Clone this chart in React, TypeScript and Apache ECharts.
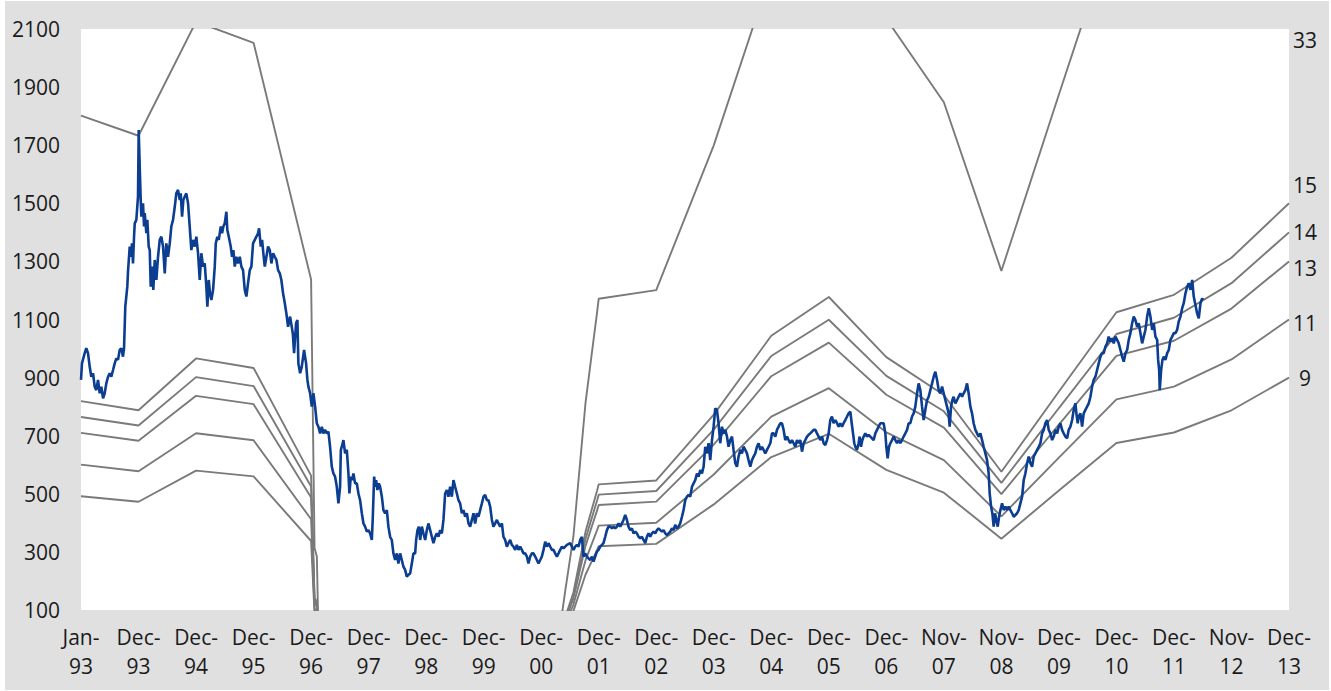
import React, { useEffect, useRef } from "react";
import * as echarts from "echarts";

const xLabels = [
  "Jan-\n93", "Dec-\n93", "Dec-\n94", "Dec-\n95", "Dec-\n96", "Dec-\n97", "Dec-\n98",
  "Dec-\n99", "Dec-\n00", "Dec-\n01", "Dec-\n02", "Dec-\n03", "Dec-\n04", "Dec-\n05",
  "Dec-\n06", "Nov-\n07", "Nov-\n08", "Dec-\n09", "Dec-\n10", "Dec-\n11", "Nov-\n12", "Dec-\n13",
];

const yTicks = [100, 300, 500, 700, 900, 1100, 1300, 1500, 1700, 1900, 2100];

// P/E multiples of the gray bands
const peMultiples = [9, 11, 13, 14, 15, 33];

const epsTime = [0, 1, 2, 3, 4, 4.06, 4.1, 4.13, 8.3, 8.42, 8.56, 8.77, 8.88, 8.97, 9, 10, 11, 12, 13, 14, 15, 16, 17, 18, 19, 20, 21];
const epsValue = [54.6, 52.5, 64.4, 62.2, 37.5, 9.5, 8.6, 0, 0, 5.1, 10.7, 24.6, 29.8, 34, 35.5, 36.4, 51.5, 69.6, 78.5, 64.7, 56, 38.4, 56.8, 75, 79, 87.5, 100];

// index level: [years since Jan-93, value]
const price: [number, number][] = [
  [0.000,892],[0.017,949],[0.064,984],[0.092,1001],[0.122,984],[0.151,938],[0.179,903],[0.209,915],[0.238,869],[0.266,857],[0.296,892],[0.325,846],[0.353,869],[0.383,829],[0.412,846],[0.440,880],[0.470,903],[0.499,915],[0.527,903],[0.557,926],[0.586,949],[0.614,966],[0.643,961],[0.673,995],[0.701,1001],[0.730,972],[0.748,1001],[0.770,1144],[0.805,1213],[0.817,1265],[0.847,1351],[0.864,1316],[0.887,1362],[0.904,1293],[0.922,1385],[0.934,1431],[0.962,1443],[0.991,1523],[1.003,1752],[1.021,1626],[1.038,1511],[1.049,1454],[1.078,1500],[1.096,1420],[1.108,1466],[1.136,1397],[1.153,1443],[1.177,1351],[1.195,1339],[1.212,1213],[1.235,1282],[1.257,1202],[1.282,1305],[1.310,1236],[1.339,1316],[1.369,1374],[1.397,1385],[1.426,1351],[1.456,1259],[1.483,1362],[1.513,1316],[1.543,1362],[1.570,1420],[1.600,1443],[1.630,1488],[1.657,1534],[1.687,1546],[1.717,1511],[1.734,1534],[1.757,1454],[1.779,1511],[1.803,1523],[1.831,1534],[1.861,1500],[1.890,1420],[1.918,1339],[1.948,1374],[1.977,1351],[2.005,1385],[2.035,1328],[2.064,1236],[2.092,1328],[2.122,1282],[2.151,1293],[2.179,1213],[2.197,1144],[2.221,1236],[2.243,1190],[2.266,1167],[2.296,1202],[2.325,1282],[2.343,1362],[2.370,1385],[2.395,1374],[2.430,1420],[2.452,1397],[2.475,1420],[2.499,1431],[2.527,1471],[2.544,1408],[2.569,1385],[2.603,1351],[2.626,1316],[2.649,1339],[2.673,1282],[2.701,1316],[2.730,1293],[2.760,1316],[2.788,1282],[2.817,1270],[2.847,1202],[2.875,1179],[2.904,1225],[2.934,1270],[2.962,1282],[2.991,1362],[3.021,1374],[3.049,1385],[3.078,1397],[3.096,1414],[3.125,1351],[3.148,1374],[3.170,1328],[3.195,1282],[3.223,1316],[3.252,1351],[3.282,1339],[3.310,1293],[3.339,1328],[3.369,1316],[3.397,1305],[3.426,1270],[3.456,1259],[3.483,1236],[3.513,1190],[3.543,1156],[3.570,1121],[3.600,1075],
  [3.635,1110],[3.682,1052],[3.704,984],[3.739,1087],[3.762,1098],[3.779,949],[3.809,915],[3.838,938],[3.878,995],[3.913,949],[3.936,892],[3.953,869],[3.983,846],[4.012,800],[4.040,846],[4.070,800],[4.099,743],[4.127,731],[4.157,708],[4.186,731],[4.214,708],[4.243,720],[4.273,708],[4.301,714],[4.330,662],[4.360,593],[4.388,570],[4.417,559],[4.447,524],[4.475,467],[4.504,524],[4.517,651],[4.534,662],[4.562,685],[4.591,639],[4.621,651],[4.649,570],[4.666,501],[4.690,559],[4.713,547],[4.736,570],[4.765,536],[4.795,536],[4.823,501],[4.852,478],[4.882,433],[4.910,398],[4.939,387],[4.969,370],[4.997,375],[5.026,364],[5.056,341],[5.073,421],[5.096,559],[5.113,524],[5.130,547],[5.153,513],[5.177,536],[5.200,524],[5.230,490],[5.257,444],[5.287,433],[5.317,444],[5.344,387],[5.374,352],[5.403,341],[5.431,295],[5.461,272],[5.490,295],[5.518,260],[5.548,295],[5.577,272],[5.605,249],[5.635,238],[5.664,215],[5.692,221],[5.722,226],[5.751,260],[5.779,295],[5.809,295],[5.826,341],[5.849,375],[5.873,387],[5.896,341],[5.925,387],[5.953,364],[5.983,341],[6.012,375],[6.040,398],[6.070,375],[6.099,352],[6.127,330],[6.157,352],[6.186,364],[6.214,352],[6.243,375],[6.273,364],[6.301,410],[6.330,501],[6.360,513],[6.388,490],[6.417,524],[6.447,490],[6.475,547],[6.504,524],[6.534,501],[6.562,478],[6.591,467],[6.621,433],[6.649,444],[6.678,421],[6.708,433],[6.736,398],[6.765,387],[6.795,410],[6.823,433],[6.852,398],[6.882,433],[6.910,421],[6.939,444],[6.969,467],[6.997,490],[7.026,496],[7.056,478],[7.083,478],[7.113,456],[7.143,410],[7.170,387],[7.200,398],[7.230,410],[7.257,398],[7.287,387],[7.317,398],[7.344,352],[7.374,341],[7.403,318],[7.431,330],[7.461,341],[7.490,324],[7.518,318],[7.548,307],[7.577,324],[7.605,307],[7.635,318],[7.664,307],[7.692,295],[7.722,295],[7.751,284],[7.779,260],[7.809,284],
  [7.838,295],[7.866,295],[7.896,284],[7.925,272],[7.953,260],[7.983,272],[8.012,284],[8.040,307],[8.070,335],[8.099,318],[8.127,330],[8.157,318],[8.186,307],[8.214,307],[8.243,295],[8.273,284],[8.301,295],[8.330,307],[8.360,318],[8.388,312],[8.447,324],[8.504,330],[8.534,318],[8.562,307],[8.591,318],[8.621,324],[8.649,318],[8.678,341],[8.708,352],[8.725,307],[8.736,284],[8.765,295],[8.795,284],[8.823,278],[8.852,272],[8.882,284],[8.910,267],[8.939,284],[8.969,301],[8.997,307],[9.026,318],[9.055,324],[9.083,330],[9.113,352],[9.143,375],[9.170,387],[9.200,387],[9.230,381],[9.257,387],[9.287,381],[9.317,387],[9.344,398],[9.374,387],[9.403,398],[9.431,410],[9.461,427],[9.490,410],[9.518,387],[9.548,375],[9.577,381],[9.605,364],[9.635,370],[9.664,364],[9.692,352],[9.722,347],[9.751,352],[9.779,341],[9.809,330],[9.838,352],[9.866,364],[9.896,352],[9.925,364],[9.953,370],[9.983,364],[10.012,375],[10.040,381],[10.070,375],[10.099,370],[10.127,375],[10.157,364],[10.186,358],[10.214,364],[10.243,370],[10.273,381],[10.301,375],[10.330,393],[10.360,381],[10.388,387],[10.417,398],[10.447,421],[10.475,444],[10.504,478],[10.534,490],[10.562,496],[10.591,490],[10.621,524],[10.649,536],[10.678,547],[10.708,570],[10.736,559],[10.765,582],[10.795,570],[10.823,593],[10.852,662],[10.882,639],[10.910,674],[10.939,616],[10.969,685],[10.997,731],[11.026,794],[11.055,789],[11.083,743],[11.113,674],[11.143,731],[11.170,708],[11.200,720],[11.230,697],[11.257,662],[11.287,685],[11.317,697],[11.344,651],[11.374,605],[11.403,593],[11.431,628],[11.461,651],[11.490,639],[11.518,662],[11.548,651],[11.577,639],[11.605,616],[11.635,593],[11.664,616],[11.692,628],[11.722,639],[11.751,662],[11.779,674],[11.809,651],[11.838,662],[11.866,651],[11.896,639],[11.925,651],[11.953,662],[11.983,674],
  [12.012,708],[12.040,708],[12.070,697],[12.099,720],[12.127,731],[12.157,743],[12.186,743],[12.214,720],[12.243,685],[12.273,697],[12.301,685],[12.330,674],[12.360,685],[12.388,674],[12.417,662],[12.447,685],[12.475,674],[12.504,685],[12.534,645],[12.562,674],[12.591,685],[12.621,697],[12.649,703],[12.678,708],[12.708,714],[12.736,720],[12.765,720],[12.795,708],[12.823,697],[12.852,685],[12.882,697],[12.910,674],[12.939,668],[12.969,685],[12.997,708],[13.026,754],[13.055,766],[13.083,743],[13.113,754],[13.143,743],[13.170,731],[13.200,743],[13.230,731],[13.257,743],[13.287,754],[13.317,766],[13.344,777],[13.374,783],[13.391,754],[13.421,708],[13.443,674],[13.461,662],[13.490,651],[13.518,674],[13.536,697],[13.560,662],[13.583,685],[13.605,697],[13.635,708],[13.664,697],[13.692,703],[13.722,697],[13.751,691],[13.779,685],[13.809,708],[13.838,720],[13.866,731],[13.896,743],[13.925,743],[13.953,743],[13.983,708],[14.000,662],[14.023,622],[14.047,662],[14.070,674],[14.099,685],[14.127,697],[14.157,685],[14.186,674],[14.214,685],[14.243,674],[14.273,685],[14.301,697],[14.330,708],[14.360,720],[14.388,743],[14.417,743],[14.447,766],[14.475,777],[14.504,800],[14.534,846],[14.562,880],[14.591,857],[14.621,800],[14.649,754],[14.678,789],[14.708,823],[14.736,834],[14.765,857],[14.795,880],[14.823,903],[14.852,920],[14.882,892],[14.910,857],[14.939,846],[14.969,869],[14.997,846],[15.026,823],[15.055,800],[15.083,777],[15.101,731],[15.125,800],[15.148,823],[15.170,834],[15.200,811],[15.230,823],[15.257,834],[15.287,846],[15.317,834],[15.344,846],[15.374,857],[15.403,880],[15.431,846],[15.461,800],[15.490,777],[15.518,743],[15.548,720],[15.577,708],[15.605,697],[15.635,708],[15.664,685],[15.692,662],[15.722,639],[15.751,616],[15.779,570],[15.797,501],[15.821,456],[15.843,433],[15.866,387],[15.890,433],[15.913,410],[15.936,387],[15.960,421],[15.983,444],
  [16.012,467],[16.040,444],[16.070,456],[16.099,444],[16.127,456],[16.157,444],[16.186,433],[16.214,421],[16.243,427],[16.273,433],[16.301,444],[16.330,467],[16.360,490],[16.388,547],[16.417,570],[16.447,605],[16.475,628],[16.504,605],[16.534,593],[16.562,628],[16.591,639],[16.621,651],[16.649,662],[16.678,674],[16.708,708],[16.736,720],[16.765,743],[16.795,754],[16.823,720],[16.852,708],[16.882,685],[16.910,697],[16.939,720],[16.969,708],[16.997,731],[17.026,743],[17.055,720],[17.083,708],[17.113,697],[17.143,691],[17.170,720],[17.200,731],[17.230,754],[17.257,789],[17.287,811],[17.304,777],[17.327,743],[17.344,766],[17.374,777],[17.403,731],[17.431,777],[17.461,789],[17.490,800],[17.518,811],[17.548,834],[17.577,869],[17.605,892],[17.635,903],[17.664,926],[17.692,949],[17.722,972],[17.751,984],[17.779,984],[17.809,1007],[17.838,1018],[17.866,1041],[17.896,1024],[17.925,1035],[17.953,1018],[17.983,1041],[18.012,1030],[18.040,1018],[18.070,995],[18.099,972],[18.127,955],[18.157,984],[18.186,995],[18.214,1030],[18.243,1053],[18.273,1087],[18.301,1110],[18.330,1098],[18.360,1075],[18.388,1087],[18.417,1053],[18.447,1018],[18.475,1041],[18.504,1064],[18.534,1110],[18.562,1139],[18.591,1110],[18.621,1064],[18.649,1087],[18.678,1041],[18.708,1030],[18.725,961],[18.743,926],[18.753,857],[18.777,926],[18.800,961],[18.823,972],[18.852,961],[18.882,984],[18.910,995],[18.939,1030],[18.969,1041],[18.997,1053],[19.026,1053],[19.055,1064],[19.083,1093],[19.113,1110],[19.143,1139],[19.170,1156],[19.200,1190],[19.230,1213],[19.257,1225],[19.287,1202],[19.317,1236],[19.344,1179],[19.374,1150],[19.403,1121],[19.431,1104],[19.461,1156],[19.490,1173],[19.508,1167],
];

const FONT = "'Open Sans', 'Noto Sans', 'DejaVu Sans', sans-serif";
const TEXT = "#1a1a1a";

export default function App() {
  const ref = useRef<HTMLDivElement>(null);

  useEffect(() => {
    if (!ref.current) return;
    const chart = echarts.init(ref.current, undefined, { renderer: "svg" });

    const bandSeries = peMultiples.map((m) => ({
      type: "line",
      name: `${m}x`,
      data: epsTime.map((t, i) => [t, Math.round(epsValue[i] * m * 10) / 10]),
      symbol: "none",
      showSymbol: false,
      clip: true,
      silent: true,
      z: 2,
      lineStyle: { color: "#7a7a7a", width: 1.9 },
    }));

    const labelY: Record<number, number> = { 33: 39, 15: 184, 14: 231, 13: 267, 11: 322, 9: 377 };

    chart.setOption({
      animation: false,
      backgroundColor: "#e0e0e0",
      grid: {
        left: 76,
        top: 28,
        width: 1208,
        height: 581,
        show: true,
        backgroundColor: "#ffffff",
        borderWidth: 0,
        containLabel: false,
      },
      xAxis: {
        type: "value",
        min: 0,
        max: 21,
        interval: 1,
        axisLine: { show: false },
        axisTick: { show: false },
        splitLine: { show: false },
        axisLabel: {
          color: TEXT,
          fontFamily: FONT,
          fontSize: 21,
          lineHeight: 29,
          margin: 12,
          showMinLabel: true,
          showMaxLabel: true,
          formatter: (v: number) => xLabels[Math.round(v)] ?? "",
        },
      },
      yAxis: {
        type: "value",
        min: 100,
        max: 2100,
        interval: 100,
        axisLine: { show: false },
        axisTick: { show: false },
        splitLine: { show: false },
        axisLabel: {
          color: TEXT,
          fontFamily: FONT,
          fontSize: 21,
          margin: 21,
          formatter: (v: number) => (yTicks.includes(Math.round(v)) ? String(Math.round(v)) : ""),
        },
      },
      series: [
        ...bandSeries,
        {
          type: "line",
          name: "Index",
          data: price,
          symbol: "none",
          showSymbol: false,
          clip: true,
          z: 5,
          lineStyle: { color: "#0b3d91", width: 2.6 },
        },
      ],
      graphic: peMultiples.map((m) => ({
        type: "text",
        x: 1300,
        y: labelY[m],
        style: {
          text: String(m),
          fill: TEXT,
          font: `21px ${FONT}`,
          textAlign: "center",
          textVerticalAlign: "middle",
        },
        z: 10,
      })),
    });

    return () => chart.dispose();
  }, []);

  return (
    <div style={{ position: "fixed", left: 0, top: 0, width: 1331, height: 691, background: "#ffffff" }}>
      <div ref={ref} style={{ position: "absolute", left: 5, top: 1, width: 1324, height: 689 }} />
    </div>
  );
}
